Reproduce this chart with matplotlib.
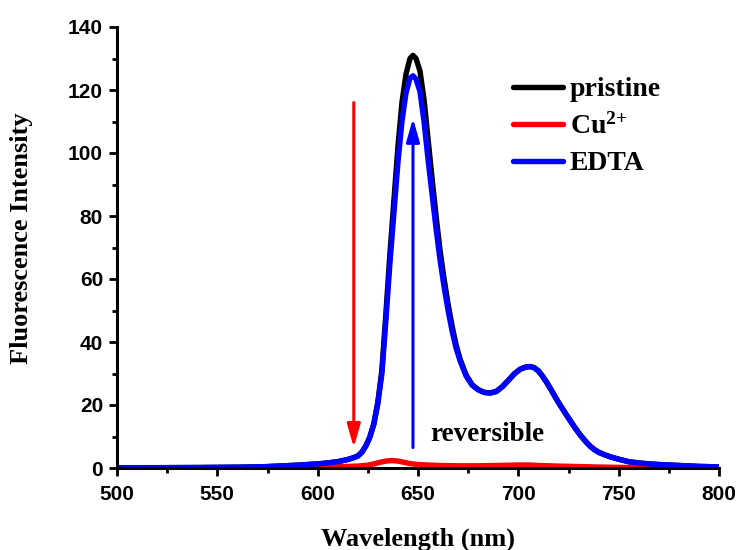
import matplotlib
matplotlib.use("Agg")
import matplotlib.pyplot as plt
from matplotlib.ticker import MultipleLocator

# ---------------- data ----------------
wavelength = [500, 520, 540, 550, 560, 570, 575, 580, 590, 600, 605, 610, 615, 618,
              620, 622, 624, 626, 628, 630, 632, 634, 636, 638, 640, 642, 644, 646,
              647.5, 649, 651, 653, 655, 657, 659, 661, 663, 665, 667, 669, 671, 674,
              677, 680, 683, 686, 689, 692, 695, 698, 701, 704, 706, 708, 710, 712,
              714, 716, 718, 720, 722, 724, 726, 728, 730, 732, 734, 736, 738, 740,
              743, 746, 750, 755, 760, 765, 770, 780, 790, 800]

edta = [0.1, 0.1, 0.15, 0.2, 0.25, 0.35, 0.45, 0.6, 0.9, 1.3, 1.6, 2.0, 2.7, 3.3,
        3.8, 5.0, 7.0, 9.8, 14, 20.5, 30, 47, 65, 81, 97, 110, 119, 123.8,
        124.5, 123.5, 119.5, 110, 98, 87, 76, 66, 57.5, 50, 43.5, 38, 34, 29.2,
        26.3, 24.8, 24.0, 23.8, 24.3, 25.8, 27.8, 29.9, 31.4, 32.1, 32.2, 31.8, 30.8, 29.2,
        27.3, 25.2, 23.0, 20.8, 18.8, 16.8, 14.9, 13.0, 11.2, 9.6, 8.1, 6.8, 5.8, 5.0,
        4.2, 3.5, 2.8, 2.0, 1.6, 1.3, 1.1, 0.8, 0.5, 0.35]

pristine = [0.1, 0.1, 0.15, 0.2, 0.25, 0.35, 0.45, 0.6, 0.9, 1.3, 1.6, 2.0, 2.7, 3.3,
            3.8, 5.0, 7.0, 9.8, 14, 21, 31, 49, 68, 85, 102, 116, 125, 130,
            131, 130, 126, 117, 104.5, 92, 80, 69, 60, 52, 45, 39, 34.5, 29.5,
            26.4, 24.9, 24.0, 23.8, 24.3, 25.8, 27.8, 29.9, 31.4, 32.1, 32.2, 31.8, 30.8, 29.2,
            27.3, 25.2, 23.0, 20.8, 18.8, 16.8, 14.9, 13.0, 11.2, 9.6, 8.1, 6.8, 5.8, 5.0,
            4.2, 3.5, 2.8, 2.0, 1.6, 1.3, 1.1, 0.8, 0.5, 0.35]

cu_wavelength = [500, 580, 590, 600, 610, 620, 625, 628, 631, 634, 637, 640, 643, 646,
                 650, 660, 670, 680, 690, 700, 705, 710, 720, 730, 740, 750, 760, 780, 800]
cu = [0.0, 0.0, 0.05, 0.2, 0.4, 0.6, 0.9, 1.3, 1.8, 2.2, 2.35, 2.2, 1.8, 1.4,
      1.1, 0.8, 0.7, 0.7, 0.8, 0.95, 0.95, 0.8, 0.6, 0.45, 0.3, 0.2, 0.1, 0.05, 0.0]

labels = ["pristine", r"Cu$^{\mathbf{2{+}}}$", "EDTA"]
x_ticks = [500, 550, 600, 650, 700, 750, 800]
y_ticks = [0, 20, 40, 60, 80, 100, 120, 140]

# ---------------- style ----------------
plt.rcParams["mathtext.fontset"] = "custom"
plt.rcParams["mathtext.rm"] = "Liberation Serif:bold"
plt.rcParams["mathtext.bf"] = "Liberation Serif:bold"
plt.rcParams["mathtext.it"] = "Liberation Serif:bold"

serif = {"family": "Liberation Serif", "weight": "bold"}

fig = plt.figure(figsize=(7.39, 5.5), dpi=100)
ax = fig.add_axes([117 / 739, 1 - 468 / 550, (719 - 117) / 739, (468 - 27) / 550])

lw = 3.9
ax.plot(wavelength, pristine, color="#000000", lw=lw, label=labels[0], zorder=2,
        solid_capstyle="round")
ax.plot(cu_wavelength, cu, color="#ff0000", lw=lw, label=labels[1], zorder=3,
        solid_capstyle="round")
ax.plot(wavelength, edta, color="#0000ff", lw=lw, label=labels[2], zorder=4,
        solid_capstyle="round")

ax.set_xlim(500, 800)
ax.set_ylim(0, 140)
ax.set_xticks(x_ticks)
ax.set_yticks(y_ticks)
ax.xaxis.set_minor_locator(MultipleLocator(25))
ax.yaxis.set_minor_locator(MultipleLocator(10))

for s in ["top", "right"]:
    ax.spines[s].set_visible(False)
for s in ["left", "bottom"]:
    ax.spines[s].set_linewidth(2.2)
    ax.spines[s].set_zorder(5)

ax.tick_params(which="major", direction="out", length=6, width=2.0, pad=4)
ax.tick_params(which="minor", direction="out", length=3.5, width=2.0)
ax.tick_params(axis="x", which="major", pad=6)
for lab in ax.get_xticklabels() + ax.get_yticklabels():
    lab.set_fontfamily("Liberation Sans")
    lab.set_fontweight("bold")
    lab.set_fontsize(15)

ax.set_xlabel("Wavelength (nm)", fontsize=19, labelpad=17, **serif)
ax.set_ylabel("Fluorescence Intensity", fontsize=19, **serif)
ax.yaxis.set_label_coords(-0.139, 0.5215)

# arrows
ax.annotate("", xy=(618, 6.5), xytext=(618, 116),
            arrowprops=dict(arrowstyle="-|>,head_length=0.7,head_width=0.2",
                            color="#ff0000", lw=2.2, mutation_scale=20,
                            shrinkA=0, shrinkB=0), zorder=6)
ax.annotate("", xy=(647.5, 111), xytext=(647.5, 6.5),
            arrowprops=dict(arrowstyle="-|>,head_length=0.7,head_width=0.2",
                            color="#0000ff", lw=2.2, mutation_scale=20,
                            shrinkA=0, shrinkB=0), zorder=6)
ax.text(656, 8.5, "reversible", fontsize=19.5, **serif)

leg = ax.legend(loc="upper left", bbox_to_anchor=(0.658, 0.887), frameon=False,
                prop={"family": "Liberation Serif", "weight": "bold", "size": 20},
                handlelength=1.8, handletextpad=0.25, labelspacing=0.4,
                borderaxespad=0, borderpad=0)

fig.savefig("out.png", dpi=100)
